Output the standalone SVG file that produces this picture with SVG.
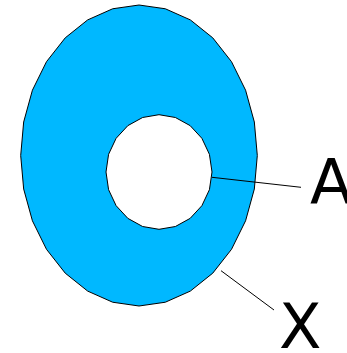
<svg xmlns="http://www.w3.org/2000/svg" width="347" height="353" viewBox="0 0 347 353">
<style>
.shape{stroke:#000;stroke-width:1;stroke-linejoin:round}
.lead{stroke:#000;stroke-width:1;fill:none}
.lbl{font-family:"DejaVu Sans",sans-serif;font-size:62px;fill:#000}
</style>
<rect width="347" height="353" fill="#fff"/>
<g id="outer">
<polygon class="shape" fill="#00b8ff" points="139,5 165.32,8.78 190.33,19.9 212.76,37.84 231.49,61.66 245.59,90.2 254.33,122.01 257.3,155.5 254.33,188.99 245.59,220.8 231.49,249.34 212.76,273.16 190.33,291.1 165.32,302.22 139,306 112.68,302.22 87.67,291.1 65.24,273.16 46.51,249.34 32.41,220.8 23.67,188.99 20.7,155.5 23.67,122.01 32.41,90.2 46.51,61.66 65.24,37.84 87.67,19.9 112.68,8.78"/>
</g>
<g id="inner">
<polygon class="shape" fill="#fff" points="159,114.7 175.38,117.5 190.15,125.64 201.88,138.32 209.41,154.29 212,172 209.41,189.71 201.88,205.68 190.15,218.36 175.38,226.5 159,229.3 142.62,226.5 127.85,218.36 116.12,205.68 108.59,189.71 106,172 108.59,154.29 116.12,138.32 127.85,125.64 142.62,117.5"/>
</g>
<g id="connectors">
<line class="lead" x1="212" y1="177.3" x2="301" y2="187.3"/>
<line class="lead" x1="221" y1="270.7" x2="274" y2="310"/>
</g>
<g id="label-A"><text class="lbl" x="310" y="204">A</text></g>
<g id="label-X"><text class="lbl" x="279" y="348">X</text></g>
</svg>
